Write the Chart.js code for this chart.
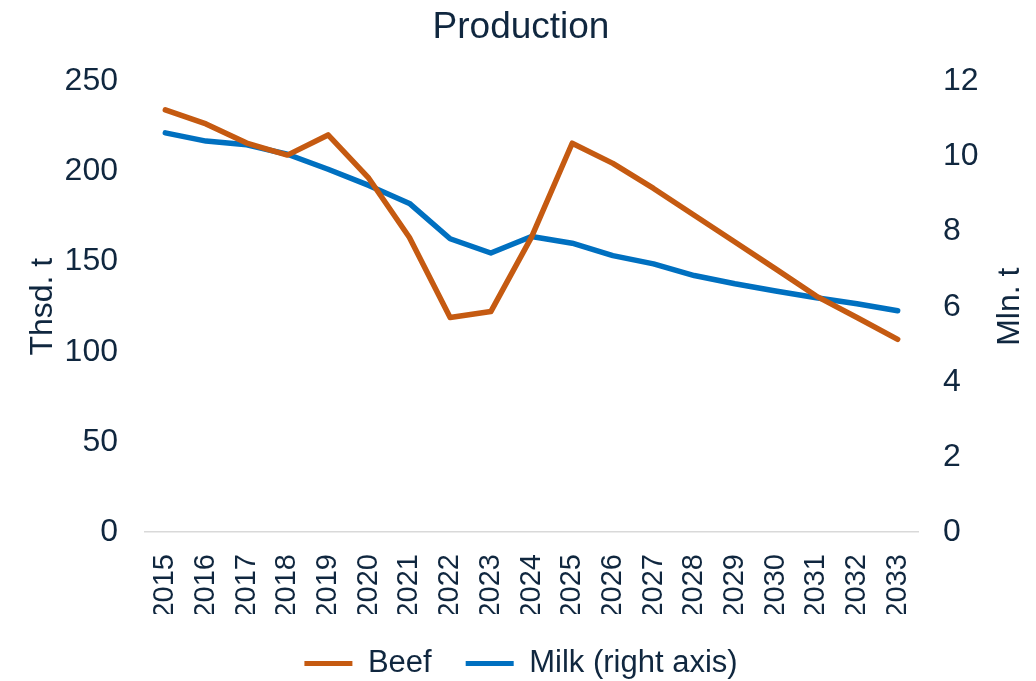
<!DOCTYPE html>
<html>
<head>
<meta charset="utf-8">
<script src="https://cdn.jsdelivr.net/npm/chart.js@4.4.1/dist/chart.umd.min.js"></script>
<style>
  html, body { margin: 0; padding: 0; background: #ffffff; }
  #wrap { width: 1036px; height: 681px; }
</style>
</head>
<body>
<div id="wrap"><canvas id="prodChart" width="1036" height="681"></canvas></div>
<script>
const years = ['2015', '2016', '2017', '2018', '2019', '2020', '2021', '2022', '2023', '2024',
               '2025', '2026', '2027', '2028', '2029', '2030', '2031', '2032', '2033'];
// thousand tonnes, left axis
const beef = [234.2, 226.4, 215.8, 209.1, 220.3, 196.3, 163.4, 119.0, 122.3, 163.6,
              215.7, 204.5, 190.6, 175.7, 160.9, 146.0, 130.9, 119.0, 106.9];
// million tonnes, right axis
const milk = [10.63, 10.41, 10.31, 10.06, 9.66, 9.23, 8.75, 7.81, 7.43, 7.87,
              7.69, 7.36, 7.14, 6.83, 6.61, 6.42, 6.24, 6.08, 5.89];
const leftTicks = [0, 50, 100, 150, 200, 250];
const rightTicks = [0, 2, 4, 6, 8, 10, 12];

const textColor = '#10273f';
const fontFamily = '"Liberation Sans", Arial, sans-serif';

// right axis title reads bottom-to-top like the left one
const rightTitle = {
    id: 'rightTitle',
    afterDraw(chart) {
        const ctx = chart.ctx;
        const area = chart.chartArea;
        ctx.save();
        ctx.translate(1010, (area.top + area.bottom) / 2);
        ctx.rotate(-Math.PI / 2);
        ctx.fillStyle = textColor;
        ctx.font = '32px ' + fontFamily;
        ctx.textAlign = 'center';
        ctx.textBaseline = 'middle';
        ctx.fillText('Mln. t', 0, 0);
        ctx.restore();
    }
};

new Chart(document.getElementById('prodChart').getContext('2d'), {
    type: 'line',
    data: {
        labels: years,
        datasets: [{
            label: 'Beef',
            data: beef,
            yAxisID: 'y',
            borderColor: '#c55a11',
            backgroundColor: '#c55a11',
            borderWidth: 5.5,
            pointRadius: 0,
            borderCapStyle: 'round',
            borderJoinStyle: 'round',
            tension: 0
        }, {
            label: 'Milk (right axis)',
            data: milk,
            yAxisID: 'y1',
            borderColor: '#0070c0',
            backgroundColor: '#0070c0',
            borderWidth: 5.5,
            pointRadius: 0,
            borderCapStyle: 'round',
            borderJoinStyle: 'round',
            tension: 0
        }]
    },
    options: {
        responsive: false,
        animation: false,
        layout: { padding: { left: 6, right: 0, top: 0, bottom: -8 } },
        plugins: {
            title: {
                display: true,
                text: 'Production',
                color: textColor,
                font: { family: fontFamily, size: 37, weight: 'normal' },
                padding: { top: 6, bottom: 31 }
            },
            legend: {
                position: 'bottom',
                labels: {
                    color: textColor,
                    font: { family: fontFamily, size: 31 },
                    boxWidth: 48,
                    boxHeight: 5,
                    padding: 34,
                    generateLabels(chart) {
                        return chart.data.datasets.map((ds, i) => ({
                            text: ds.label,
                            fillStyle: ds.borderColor,
                            strokeStyle: ds.borderColor,
                            lineWidth: 0,
                            fontColor: textColor,
                            datasetIndex: i
                        }));
                    }
                }
            },
            tooltip: { enabled: false }
        },
        scales: {
            x: {
                offset: true,
                grid: { display: false, drawTicks: false },
                border: { color: '#d9d9d9', width: 1.5 },
                afterFit(axis) { axis.height = 82; },
                ticks: {
                    color: textColor,
                    font: { family: fontFamily, size: 29 },
                    minRotation: 90,
                    maxRotation: 90,
                    autoSkip: false,
                    padding: 22
                }
            },
            y: {
                position: 'left',
                min: leftTicks[0],
                max: leftTicks[leftTicks.length - 1],
                grid: { display: false, drawTicks: false },
                border: { display: false },
                afterBuildTicks(axis) { axis.ticks = leftTicks.map(v => ({ value: v })); },
                afterFit(axis) { axis.width = 139; },
                ticks: {
                    color: textColor,
                    font: { family: fontFamily, size: 32 },
                    padding: 27
                },
                title: {
                    display: true,
                    text: 'Thsd. t',
                    color: textColor,
                    font: { family: fontFamily, size: 32 },
                    padding: 18
                }
            },
            y1: {
                position: 'right',
                min: rightTicks[0],
                max: rightTicks[rightTicks.length - 1],
                grid: { display: false, drawTicks: false },
                border: { display: false },
                afterBuildTicks(axis) { axis.ticks = rightTicks.map(v => ({ value: v })); },
                afterFit(axis) { axis.width = 118; },
                ticks: {
                    color: textColor,
                    font: { family: fontFamily, size: 32 },
                    padding: 25
                }
            }
        }
    },
    plugins: [rightTitle]
});
</script>
</body>
</html>
